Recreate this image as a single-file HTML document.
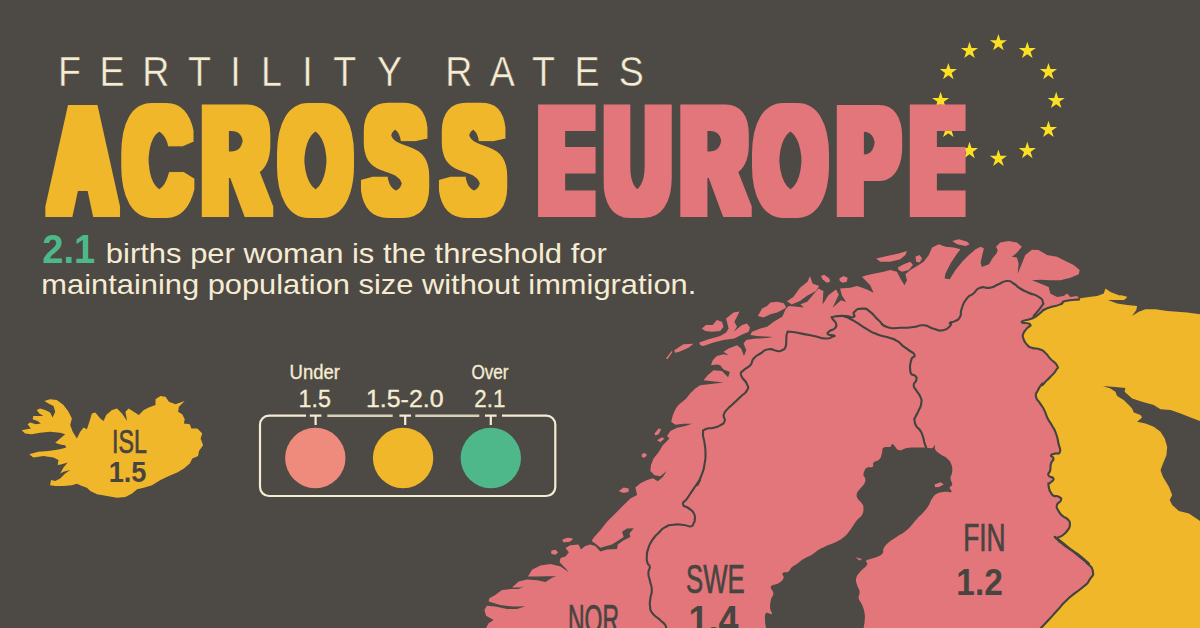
<!DOCTYPE html>
<html lang="en"><head><meta charset="utf-8"><title>Fertility Rates Across Europe</title>
<style>
html,body{margin:0;padding:0;background:#4d4944;}
body{width:1200px;height:628px;overflow:hidden;font-family:'Liberation Sans',sans-serif;}
svg{display:block}
</style></head><body>
<svg width="1200" height="628" viewBox="0 0 1200 628">
<rect width="1200" height="628" fill="#4d4944"/>
<g fill="#fbe024"><path d="M998.4,34 L1000.42,40.22 L1006.96,40.22 L1001.67,44.06 L1003.69,50.28 L998.4,46.44 L993.11,50.28 L995.13,44.06 L989.84,40.22 L996.38,40.22Z"/><path d="M1027.3,41.74 L1029.32,47.96 L1035.86,47.96 L1030.57,51.81 L1032.59,58.02 L1027.3,54.18 L1022.01,58.02 L1024.03,51.81 L1018.74,47.96 L1025.28,47.96Z"/><path d="M1048.46,62.9 L1050.48,69.12 L1057.02,69.12 L1051.73,72.96 L1053.75,79.18 L1048.46,75.34 L1043.17,79.18 L1045.19,72.96 L1039.9,69.12 L1046.44,69.12Z"/><path d="M1056.2,91.8 L1058.22,98.02 L1064.76,98.02 L1059.47,101.86 L1061.49,108.08 L1056.2,104.24 L1050.91,108.08 L1052.93,101.86 L1047.64,98.02 L1054.18,98.02Z"/><path d="M1048.46,120.7 L1050.48,126.92 L1057.02,126.92 L1051.73,130.76 L1053.75,136.98 L1048.46,133.14 L1043.17,136.98 L1045.19,130.76 L1039.9,126.92 L1046.44,126.92Z"/><path d="M1027.3,141.86 L1029.32,148.07 L1035.86,148.08 L1030.57,151.92 L1032.59,158.14 L1027.3,154.29 L1022.01,158.14 L1024.03,151.92 L1018.74,148.08 L1025.28,148.07Z"/><path d="M998.4,149.6 L1000.42,155.82 L1006.96,155.82 L1001.67,159.66 L1003.69,165.88 L998.4,162.04 L993.11,165.88 L995.13,159.66 L989.84,155.82 L996.38,155.82Z"/><path d="M969.5,141.86 L971.52,148.07 L978.06,148.08 L972.77,151.92 L974.79,158.14 L969.5,154.29 L964.21,158.14 L966.23,151.92 L960.94,148.08 L967.48,148.07Z"/><path d="M948.34,120.7 L950.36,126.92 L956.9,126.92 L951.61,130.76 L953.63,136.98 L948.34,133.14 L943.05,136.98 L945.07,130.76 L939.78,126.92 L946.32,126.92Z"/><path d="M940.6,91.8 L942.62,98.02 L949.16,98.02 L943.87,101.86 L945.89,108.08 L940.6,104.24 L935.31,108.08 L937.33,101.86 L932.04,98.02 L938.58,98.02Z"/><path d="M948.34,62.9 L950.36,69.12 L956.9,69.12 L951.61,72.96 L953.63,79.18 L948.34,75.34 L943.05,79.18 L945.07,72.96 L939.78,69.12 L946.32,69.12Z"/><path d="M969.5,41.74 L971.52,47.96 L978.06,47.96 L972.77,51.81 L974.79,58.02 L969.5,54.18 L964.21,58.02 L966.23,51.81 L960.94,47.96 L967.48,47.96Z"/></g>
<g stroke-linejoin="round" stroke-linecap="round">
<path fill="#e2767b" d="M486.1,628 L488.6,623.3 L493.6,620 L486.1,615.8 L484.4,610 L486.9,605.8 L495.3,606.6 L507,609.1 L517,609.1 L525.4,606.3 L513.6,606.6 L500.3,604.9 L488.6,601.6 L489.4,598.3 L495.3,594.9 L501.9,589.9 L510.3,589.1 L518.7,589.1 L524.5,586.2 L520.3,587.4 L512,587.4 L518.7,581.5 L527,579.5 L537.1,580.2 L545.4,581.9 L552.1,577.8 L556.3,576.2 L547.1,576.2 L537.1,576.5 L527.9,576.5 L532,569.8 L540.4,565.6 L550.4,564 L560.5,566.5 L568.8,572.3 L565.5,568.2 L559.6,562.3 L560.5,558.1 L565.5,556.4 L568.8,552.3 L565.5,548.1 L570.2,545.2 L578.5,544.4 L581,549.4 L585.2,546.1 L590.2,544.4 L595.3,546.1 L600.3,551.6 L607,549.4 L617,548.9 L617.8,544.4 L623.7,540.2 L630.4,536.9 L629.5,533.5 L633.7,528.2 L627,528.5 L622,531.8 L623.7,536.9 L618.7,540.2 L612,544.4 L600.3,547.7 L595.3,543.5 L591.6,541 L593.6,537.7 L600.3,530.2 L607,521.8 L615.3,513.4 L623.7,505.1 L630.4,498.4 L637.1,495.1 L635.4,487.5 L640.4,483.3 L647.1,480 L638.6,485 L647,480 L652.8,478.3 L657.8,481.2 L662.8,477 L666.7,471.1 L660.3,476.2 L654.5,475.3 L650.3,471.1 L651.1,464.4 L653.6,458.6 L658.7,451.9 L662.8,445.2 L667,441 L669.5,438.5 L667,436 L670.4,431 L677.1,427.7 L685.4,426 L692.1,423.8 L683.7,423.8 L675.4,424.8 L671.2,421.8 L672.9,415.1 L675.4,409.3 L678.4,405 L686,398.7 L690.1,393.6 L695.2,388.6 L700.2,385.3 L723.6,382.6 L703.5,380.3 L707.7,375.3 L713.5,370.2 L721.9,371.1 L728.1,377.3 L729.9,371.9 L723.6,369.4 L720.2,365.2 L716.9,364.4 L711,365.2 L712.7,360.2 L716.9,356 L723.6,354.3 L728.6,355.2 L723.6,351.8 L728.6,348.5 L737,345.2 L741.1,348.5 L744,356 L746.2,350.2 L743.6,343.5 L746.2,340.1 L753.7,338.8 L767.1,338.1 L772.9,337.1 L757,336 L750.3,335.1 L752,331.8 L760.4,328.4 L767.1,326.8 L773.7,321.7 L782.1,316.7 L783.8,313.4 L785.5,309.2 L788.8,305.9 L797.2,306.7 L803.8,307.5 L800.5,304.2 L807.2,301.7 L818.4,288.5 L823.4,291 L822.6,304.4 L828.4,295.2 L836,289.4 L838.8,294.4 L832.6,307.8 L841,300.2 L846,301.9 L841.8,295.2 L840.1,288.5 L850.2,287.7 L856.9,286 L860.2,286.9 L866.9,289.4 L873.6,292.7 L870.2,285.2 L861.9,276.8 L866.9,275.2 L873.6,273.8 L883.6,271.8 L890.3,270.1 L897,271.8 L900.3,278.5 L904.5,285.2 L907,280.2 L905.4,274.3 L910.4,270.1 L917.1,266 L923.7,261.8 L928.8,255.1 L932.1,247.6 L938.8,244.2 L945.5,246.7 L953.8,247.6 L960.5,249.2 L957.2,253.4 L950.5,263.4 L945.5,273.5 L944.6,278.5 L949.7,279.3 L955.5,270.1 L962.2,261.8 L968.9,255.1 L975.6,249.2 L980.6,246.7 L983.9,248.4 L982.3,255.1 L980.6,262.6 L981.8,267.1 L989,264.3 L992.3,258.4 L996.5,253.4 L997.7,250.1 L996,246.7 L1000.2,242.5 L1008.5,240.9 L1016.9,242.5 L1021.9,246.7 L1016.1,253.4 L1011.9,256.8 L1016.9,257.6 L1018.6,263.4 L1017.7,273.8 L1021.9,263.4 L1025.3,255.1 L1031.9,249.7 L1038.6,250.1 L1047,255.1 L1057,256.8 L1065.4,260.9 L1073.7,265.1 L1079.6,270.1 L1078.8,274.3 L1070.4,277.7 L1060.4,280.2 L1050.3,280.2 L1040.3,279.8 L1031.9,280.2 L1040.3,283.5 L1048.7,286.9 L1050.3,293.5 L1057,296.9 L1063.7,296.1 L1067.1,293.5 L1070.4,296.9 L1077.1,296.1 L1079.1,298.6 L1100,320 L1100,640 L480,640 L486,628Z"/>
<g fill="#e2767b"><path d="M665.9,358.5 L671.7,351 L672.6,351.8 L667.6,358.9Z"/><path d="M674.2,350.2 L683.4,344.3 L693.5,343.8 L688.5,347.7 L679.3,351.8 L675.1,352.7Z"/><path d="M699.3,342.6 L708.5,339.3 L720.2,336 L726.1,332.6 L728.6,328.4 L726.1,318.4 L733.6,312.5 L739.5,311.4 L737,316.7 L734.4,321.7 L737,326.8 L733.6,331.8 L742,325.1 L747,323.4 L750,327.6 L748.7,331.8 L741.1,335.1 L734.4,338.5 L723.6,340.1 L713.5,342.6 L703.5,346 L700.2,345.2Z"/><path d="M701.8,328.4 L706,325.1 L712.7,325.1 L716.9,320.1 L721.9,321.7 L723.6,326.8 L720.2,330.9 L711.9,331.8 L705.2,330.9Z"/><path d="M757.9,315.9 L762,308.4 L767.1,305.9 L770.4,302.5 L777.1,301.7 L783.8,303.3 L786.3,307.5 L782.1,310 L777.1,312.5 L770.4,314.2 L763.7,317.6Z"/><path d="M876.1,258.4 L887,255.9 L898.7,253.4 L907,250.9 L905.4,255.1 L900.3,259.3 L890.3,261.8 L880.3,261.8Z"/><path d="M915.4,256.8 L919.6,255.1 L922.1,258.4 L919.6,262.6 L916.2,261.8Z"/><path d="M897.8,267.6 L903.7,264.3 L910.4,261.8 L912.9,265.1 L908.7,270.1 L902,271.8 L898.7,270.1Z"/><path d="M820.9,276 L824.2,274.8 L829.3,278.5 L830.1,281.8 L826.8,282.7 L822.6,279.3Z"/><path d="M839.3,278.5 L843.5,276 L847.7,277.7 L846.8,281.8 L842.6,282.7 L839.8,281Z"/><path d="M952.2,240.9 L958.9,239.2 L967.2,241.7 L969.7,244.2 L965.6,245.9 L957.2,244.2Z"/><path d="M787,301.2 L793.3,296.9 L800,287.7 L807.5,281.8 L810,276 L812.5,283.5 L819.2,286 L815.9,291 L806.7,296.1 L800,301.1 L791.6,304.4Z"/><path d="M654.5,433.5 L658.7,428.5 L661.2,429.3 L658.7,434.3 L655.3,435.5Z"/><path d="M657,440.2 L662,437.2 L664.5,438.5 L660.3,442.2Z"/><path d="M641.6,454.4 L644.4,452.7 L647,454.9 L644.4,457.8 L641.9,456.9Z"/><path d="M618.7,490.9 L623.7,487.5 L628.7,488.4 L628.7,491.7 L623.7,493Z"/><path d="M562.6,540.2 L568.5,537.7 L572.7,539.4 L569.3,541.9 L563.5,542.2Z"/><path d="M550.9,551.9 L554.3,549.9 L557.6,551.9 L556,554.4 L551.8,553.9Z"/><path d="M562.1,539.7 L567.2,537.7 L573,538.4 L570.5,541.1 L563.8,542.2Z"/><path d="M551.3,550.6 L555.5,549.8 L558,552.3 L555.5,554.4 L551.8,553.9Z"/></g>
<path fill="#f1b72a" d="M1079.1,298.6 L1088.8,296.9 L1097.2,296.1 L1103.8,293.5 L1105.5,288.5 L1110.5,291.9 L1118.9,295.2 L1127.3,296.9 L1123.9,300.2 L1120.4,295.1 L1127.1,296.7 L1123.7,300.1 L1115.4,300.1 L1107.9,300.1 L1117.1,303.4 L1127.1,305.1 L1137.1,305.9 L1136.3,310.1 L1132.1,316 L1138.8,311.8 L1145.5,309.3 L1155.5,309.3 L1167.2,310.9 L1177.3,311.8 L1187.3,312.6 L1200,314.3 L1210,315 L1210,640 L1035,640 L1041,628 L1048.5,620 L1056.9,610.8 L1065.2,601.6 L1073.6,594.1 L1083.6,586.5 L1089.5,579.9 L1092.8,570.7 L1086.1,562.3 L1080.3,556.4 L1071.9,550.6 L1063.5,544.7 L1057.7,538.9 L1086.1,561.9 L1080.3,556.1 L1071.9,550.2 L1063.5,544.4 L1057.7,538.9 L1062.7,535.2 L1067.7,530.2 L1069.9,524.3 L1067.7,519.3 L1062.7,516 L1058.5,510.9 L1056.9,505.1 L1061,500.1 L1058.5,496.7 L1051.8,494.2 L1048.5,485 L1050.2,482.8 L1053.5,478.7 L1048.5,475.3 L1050.2,470.3 L1051,463.6 L1053.5,458.6 L1051,455.3 L1055.2,453.6 L1059.9,451.9 L1058.5,443.5 L1056,433.5 L1051.8,425.2 L1047.7,418.5 L1044.3,410.1 L1040.1,403.4 L1036,396.7 L1037.6,390.9 L1041.8,384.2 L1042.6,385 L1045.2,382 L1050.2,377 L1056,370.3 L1056.9,365.3 L1050.2,358.6 L1045.2,352.7 L1040.1,349.4 L1031.8,347.7 L1026.8,344.4 L1023.4,338.5 L1023.4,333.5 L1026.8,328.5 L1030.1,324.3 L1021.7,321.8 L1031.8,318.5 L1037.6,315.1 L1043.5,310.1 L1043.6,309.9 L1050.3,307.3 L1060.4,304.4 L1065.4,301.1 L1079.1,299.4Z"/>
<path fill="#4d4944" d="M1102.8,385.9 L1115.4,387 L1125.4,388 L1124.6,391.7 L1132.1,398.4 L1142.1,401.7 L1153.8,405.1 L1160.5,409.3 L1170.6,410.1 L1180.6,413.4 L1190.6,417.6 L1200,421 L1210,423 L1210,523 L1200,521 L1189,513.4 L1178.9,510.9 L1172.2,505.1 L1169.7,500.1 L1172.2,495.1 L1168.9,486.7 L1163,477 L1160.5,470.3 L1163,463.6 L1166.4,455.3 L1167.2,446.9 L1164.7,438.5 L1160.5,431.8 L1153.8,426.8 L1145.5,423.5 L1137.1,421.8 L1142.1,417.6 L1140.5,415.1 L1133.8,412.6 L1132.1,408.4 L1128.8,405.1 L1123.7,400.1 L1117.1,395.9 L1115.4,391.7 L1110.4,388.4 L1102.8,385.9Z"/>
<path fill="#4d4944" d="M883.6,447.6 C885.6,446.1 888.2,447.6 890.3,446.8 C892.4,446.0 890.8,443.4 892.8,444.2 C894.8,445.0 895.8,449.1 898.7,450.1 C901.6,451.1 901.9,449.0 905.4,448.4 C908.9,447.8 909.4,447.8 913.7,447.6 C918.0,447.4 919.4,447.5 923.7,447.6 C928.0,447.7 929.6,448.7 932.1,448.1 C934.6,447.5 933.8,444.6 934.6,445.1 C935.4,445.6 934.1,448.0 935.5,450.1 C936.9,452.2 937.8,452.3 940.5,454.3 C943.2,456.3 944.7,456.2 947.2,458.5 C949.7,460.8 950.1,461.2 951.3,464.3 C952.5,467.4 952.4,468.5 952.2,471.8 C952.0,475.1 950.5,475.6 950.5,478.5 C950.5,481.4 952.4,482.3 952.2,484.4 C952.0,486.5 949.9,485.9 949.7,487.7 C949.5,489.4 952.7,490.9 951.3,491.9 C949.9,492.9 947.1,491.5 943.8,491.9 C940.5,492.3 939.8,492.0 937.1,493.6 C934.4,495.2 934.0,495.9 932.1,498.6 C930.2,501.3 930.8,502.2 928.8,505.3 C926.8,508.4 926.4,508.9 923.7,512 C921.0,515.1 921.0,514.6 917.1,518.7 C913.2,522.8 911.8,525.6 907.2,529.7 C902.6,533.8 901.5,533.5 897.2,536.4 C892.9,539.3 891.9,539.5 888.8,542.2 C885.7,544.9 885.4,545.4 883.8,548.1 C882.2,550.8 884.4,551.6 882.1,553.9 C879.8,556.2 877.5,556.5 873.8,558.1 C870.1,559.7 867.9,559.0 866.3,560.6 C864.7,562.2 868.5,562.3 867.1,564.8 C865.7,567.3 862.9,568.4 860.4,571.5 C857.9,574.6 857.0,575.1 856.2,578.2 C855.4,581.3 856.3,581.8 857.1,584.9 C857.9,588.0 859.2,588.5 859.6,591.6 C860.0,594.7 858.1,595.2 858.7,598.3 C859.3,601.4 860.7,601.4 862.1,604.9 C863.5,608.4 864.0,609.4 864.6,613.3 C865.2,617.2 864.8,618.3 864.6,621.7 C864.4,625.1 864.1,623.7 863.7,628 C863.3,632.3 885.8,637.2 863,640 C840.2,642.8 788.7,642.8 766,640 C743.3,637.2 766.1,632.3 765.9,628 C765.7,623.7 765.1,625.1 765.1,621.7 C765.1,618.3 764.3,615.1 765.9,613.3 C767.5,611.5 770.8,615.3 771.8,614.1 C772.8,612.9 770.3,611.6 770.1,608.3 C769.9,605.0 770.1,603.4 770.9,599.9 C771.7,596.4 773.4,596.3 773.4,593.2 C773.4,590.1 769.7,588.8 770.9,586.5 C772.1,584.2 775.6,585.1 778.5,583.2 C781.4,581.3 782.5,580.5 783.5,578.2 C784.5,575.9 781.4,574.8 782.6,573.2 C783.8,571.6 786.4,572.9 788.5,571.5 C790.6,570.1 789.8,569.0 791.8,567.3 C793.8,565.5 794.2,565.9 796.9,564 C799.6,562.1 800.0,561.1 803.5,559 C807.0,556.9 808.4,556.9 811.9,554.8 C815.4,552.7 815.5,551.8 818.6,549.8 C821.7,547.8 821.8,548.0 825.3,546.4 C828.8,544.8 829.3,545.2 833.6,543.1 C837.9,541.0 839.8,540.3 843.7,537.2 C847.6,534.1 847.3,533.6 850.4,529.7 C853.5,525.8 854.2,523.7 856.9,520.3 C859.6,516.9 860.4,518.0 861.9,515.3 C863.4,512.6 863.5,511.3 863.5,508.6 C863.5,505.9 863.3,505.9 861.9,503.6 C860.5,501.3 858.9,500.9 857.7,498.6 C856.5,496.3 856.3,495.9 856.9,493.6 C857.5,491.3 858.5,491.0 860.2,488.6 C862.0,486.2 863.2,485.9 864.4,483.5 C865.6,481.1 865.4,480.4 865.2,478.5 C865.0,476.6 863.7,476.9 863.5,475.2 C863.3,473.4 863.6,472.8 864.4,471 C865.2,469.2 865.0,468.7 866.9,467.7 C868.8,466.7 871.1,468.0 872.7,466.8 C874.3,465.6 872.0,464.4 873.6,462.6 C875.2,460.9 877.5,461.4 879.4,459.3 C881.3,457.2 880.9,456.1 881.9,453.4 C882.9,450.7 881.6,449.1 883.6,447.6Z"/>
<g fill="#e2767b"><path d="M934.6,484.4 L940.5,482.2 L943.8,484.4 L938.8,486.9 L935.1,487.2Z"/><path d="M855.4,557.3 L862.1,559 L859.6,560.6Z"/></g>
<g fill="none" stroke="#43433f" stroke-width="2.1">
<path d="M666,628 C665.7,627.0 667.2,627.7 665.2,625 C663.2,622.3 664.3,623.9 660.1,620 C655.9,616.1 655.9,617.8 652.6,613.3 C649.3,608.8 650.8,611.6 650.1,606.6 C649.4,601.6 649.8,603.9 650.4,598.3 C651.0,592.7 651.9,595.5 651.8,589.9 C651.7,584.3 651.2,587.1 650.1,581.5 C649.0,575.9 648.5,578.1 648.4,573.2 C648.3,568.3 650.1,570.2 649.8,566.8 C649.5,563.4 648.6,566.6 647.6,563.1 C646.6,559.6 646.5,561.4 646.8,556.4 C647.1,551.4 646.5,553.7 648.4,548.1 C650.3,542.5 649.2,544.7 652.6,539.7 C656.0,534.7 654.3,537.2 658.5,533 C662.7,528.8 660.2,530.0 665.2,527.2 C670.2,524.4 667.4,525.4 673.5,524.7 C679.6,524.0 677.6,524.5 683.5,525 C689.4,525.5 687.7,527.0 691.1,526.3 C694.5,525.6 692.4,525.1 693.6,523 C694.8,520.9 694.6,523.3 694.7,520.1 C694.8,516.9 695.8,517.3 693.9,513.4 C692.0,509.5 692.5,511.5 688.9,508.4 C685.3,505.3 683.6,507.5 683,504.2 C682.4,500.9 683.6,503.7 687.2,498.4 C690.8,493.1 689.7,494.5 693.9,488.4 C698.1,482.3 698.7,481.1 699.8,480 C700.9,478.9 696.3,487.1 697.1,485 C697.9,482.9 699.6,480.7 702.1,473.6 C704.6,466.5 703.5,470.3 704.6,463.6 C705.7,456.9 705.5,460.3 705.5,453.6 C705.5,446.9 705.4,450.2 704.6,443.5 C703.8,436.8 702.7,438.2 703,433.5 C703.3,428.8 701.9,431.2 705.5,429.3 C709.1,427.4 708.8,429.1 713.8,427.7 C718.8,426.3 716.9,427.4 720.5,425.2 C724.1,423.0 723.6,424.6 724.7,421 C725.8,417.4 722.5,418.8 723.9,414.3 C725.3,409.8 726.2,410.7 728.9,407.6 C731.6,404.5 728.1,408.5 731.9,405 C735.7,401.5 735.3,401.9 740.3,397 C745.3,392.1 744.9,394.8 747,390.3 C749.1,385.8 748.7,388.6 746.7,383.6 C744.7,378.6 742.1,379.8 741.1,375.3 C740.1,370.8 740.5,373.6 743.6,370.2 C746.7,366.8 746.9,369.1 750.3,365.2 C753.7,361.3 750.3,362.4 753.7,358.5 C757.1,354.6 755.4,356.6 760.4,353.5 C765.4,350.4 763.1,350.1 768.7,349.3 C774.3,348.5 772.6,350.7 777.1,351 C781.6,351.3 779.3,351.6 782.1,350.2 C784.9,348.8 784.1,350.2 785.5,346.8 C786.9,343.4 785.8,344.6 786.3,340.1 C786.8,335.6 785.7,336.2 787.1,333.4 C788.5,330.6 786.0,331.8 790.5,331.8 C795.0,331.8 792.7,332.0 800.5,333.4 C808.3,334.8 805.5,334.3 813.9,336 C822.3,337.7 819.5,338.2 825.6,338.5 C831.7,338.8 829.5,337.8 832.3,336.8 C835.1,335.8 835.3,336.3 833.9,335.5 C832.5,334.7 829.5,335.8 828.1,334.3 C826.7,332.8 827.6,332.9 829.8,330.9 C832.0,328.9 832.7,330.9 834.8,328.4 C836.9,325.9 836.8,326.7 836,323.4 C835.2,320.1 833.0,320.6 832.3,318.4 C831.6,316.2 830.6,317.5 833.9,316.7 C837.2,315.9 836.9,315.9 842.3,315.9 C847.7,315.9 847.4,316.4 850,316.7"/>
<path d="M843.5,316.1 C846.8,316.4 849.9,318.4 853.5,317 C857.1,315.6 851.2,314.7 854.3,311.9 C857.4,309.1 857.4,308.6 862.7,308.6 C868.0,308.6 864.9,308.0 870.2,311.9 C875.5,315.8 873.0,315.3 878.6,320.3 C884.2,325.3 879.8,324.5 887,327 C894.2,329.5 891.4,327.8 900.3,327.8 C909.2,327.8 905.9,327.8 913.7,327 C921.5,326.2 917.0,324.7 923.7,325.3 C930.4,325.9 927.4,327.0 933.8,328.7 C940.2,330.4 937.4,331.4 943,330.3 C948.6,329.2 948.2,327.8 950.5,325.3 C952.8,322.8 948.5,324.2 950,322.8 C951.5,321.4 951.7,323.0 955,321.1 C958.3,319.2 957.8,321.2 960,317 C962.2,312.8 959.5,314.7 961.7,308.6 C963.9,302.5 962.8,303.6 966.7,298.6 C970.6,293.6 968.9,297.1 973.4,293.5 C977.9,289.9 974.5,289.6 980.1,287.7 C985.7,285.8 984.0,288.8 990.1,287.7 C996.2,286.6 992.9,286.5 998.5,284.3 C1004.1,282.1 1001.9,281.3 1006.9,281 C1011.9,280.7 1009.1,281.0 1013.5,283.5 C1017.9,286.0 1015.2,285.4 1020.2,288.5 C1025.2,291.6 1022.5,289.9 1028.6,292.7 C1034.7,295.5 1033.9,293.8 1038.6,296.9 C1043.3,300.0 1042.0,298.6 1042.8,301.9 C1043.6,305.2 1044.2,302.2 1041.1,306.9 C1038.0,311.6 1036.1,313.0 1033.6,316.1"/>
<path d="M845.2,316.3 C848.5,318.1 848.0,317.4 855.2,321.7 C862.4,326.0 859.7,325.0 866.9,329.2 C874.1,333.4 869.7,331.4 876.9,334.2 C884.1,337.0 881.9,335.4 888.6,337.6 C895.3,339.8 892.3,338.1 897,340.9 C901.7,343.7 898.9,342.8 902.8,345.9 C906.7,349.0 904.8,347.0 908.7,350.1 C912.6,353.2 913.7,351.7 914.5,355.1 C915.3,358.5 912.6,354.6 911.2,360.2 C909.8,365.8 909.0,366.6 910.4,371.9 C911.8,377.2 913.5,373.2 915.4,376 C917.3,378.8 916.8,377.1 916.2,380.2 C915.6,383.3 913.7,381.8 913.7,385.2 C913.7,388.6 914.0,386.4 916.2,390.3 C918.4,394.2 918.7,392.5 920.4,396.9 C922.1,401.3 921.8,399.1 921.2,403.6 C920.6,408.1 920.6,405.8 918.7,410.3 C916.8,414.8 916.8,413.8 915.4,417 C914.0,420.2 914.2,417.0 914.5,420 C914.8,423.0 914.2,422.3 916.2,425.9 C918.2,429.5 918.2,427.3 920.4,430.9 C922.6,434.5 921.5,432.5 922.9,436.7 C924.3,440.9 923.5,439.8 924.6,443.4 C925.7,447.0 925.7,446.2 926.3,447.6"/>
<path d="M1079.1,299.4 C1074.5,300.0 1071.6,299.4 1065.4,301.1 C1059.2,302.8 1065.4,302.3 1060.4,304.4 C1055.4,306.5 1055.9,305.5 1050.3,307.3 C1044.7,309.1 1045.9,309.0 1043.6,309.9 C1041.3,310.8 1045.5,308.4 1043.5,310.1 C1041.5,311.8 1041.5,312.3 1037.6,315.1 C1033.7,317.9 1037.1,316.3 1031.8,318.5 C1026.5,320.7 1022.3,319.9 1021.7,321.8 C1021.1,323.7 1028.4,322.1 1030.1,324.3 C1031.8,326.5 1029.0,325.4 1026.8,328.5 C1024.6,331.6 1024.5,330.2 1023.4,333.5 C1022.3,336.8 1022.3,334.9 1023.4,338.5 C1024.5,342.1 1024.0,341.3 1026.8,344.4 C1029.6,347.5 1027.4,346.0 1031.8,347.7 C1036.2,349.4 1035.6,347.7 1040.1,349.4 C1044.6,351.1 1041.8,349.6 1045.2,352.7 C1048.6,355.8 1046.3,354.4 1050.2,358.6 C1054.1,362.8 1055.0,361.4 1056.9,365.3 C1058.8,369.2 1058.2,366.4 1056,370.3 C1053.8,374.2 1053.8,373.1 1050.2,377 C1046.6,380.9 1047.7,379.3 1045.2,382 C1042.7,384.7 1043.7,384.3 1042.6,385 C1041.5,385.7 1043.5,382.2 1041.8,384.2 C1040.1,386.2 1039.5,386.7 1037.6,390.9 C1035.7,395.1 1035.2,392.5 1036,396.7 C1036.8,400.9 1037.3,398.9 1040.1,403.4 C1042.9,407.9 1041.8,405.1 1044.3,410.1 C1046.8,415.1 1045.2,413.5 1047.7,418.5 C1050.2,423.5 1049.0,420.2 1051.8,425.2 C1054.6,430.2 1053.8,427.4 1056,433.5 C1058.2,439.6 1057.2,437.4 1058.5,443.5 C1059.8,449.6 1061.0,448.5 1059.9,451.9 C1058.8,455.3 1058.2,452.5 1055.2,453.6 C1052.2,454.7 1051.6,453.6 1051,455.3 C1050.4,457.0 1053.5,455.8 1053.5,458.6 C1053.5,461.4 1052.1,459.7 1051,463.6 C1049.9,467.5 1051.0,466.4 1050.2,470.3 C1049.4,474.2 1047.4,472.5 1048.5,475.3 C1049.6,478.1 1052.9,476.2 1053.5,478.7 C1054.1,481.2 1051.9,480.7 1050.2,482.8 C1048.5,484.9 1048.0,481.2 1048.5,485 C1049.0,488.8 1048.5,490.3 1051.8,494.2 C1055.1,498.1 1055.4,494.7 1058.5,496.7 C1061.6,498.7 1061.5,497.3 1061,500.1 C1060.5,502.9 1057.7,501.5 1056.9,505.1 C1056.1,508.7 1056.6,507.3 1058.5,510.9 C1060.4,514.5 1059.6,513.2 1062.7,516 C1065.8,518.8 1065.3,516.5 1067.7,519.3 C1070.1,522.1 1069.9,520.7 1069.9,524.3 C1069.9,527.9 1070.1,526.6 1067.7,530.2 C1065.3,533.8 1066.0,532.3 1062.7,535.2 C1059.4,538.1 1057.4,535.8 1057.7,538.9 C1058.0,542.0 1058.8,540.6 1063.5,544.4 C1068.2,548.2 1066.3,546.3 1071.9,550.2 C1077.5,554.1 1075.6,552.2 1080.3,556.1 C1085.0,560.0 1093.6,567.6 1086.1,561.9 C1078.6,556.2 1065.2,544.6 1057.7,538.9 C1050.2,533.2 1058.8,540.8 1063.5,544.7 C1068.2,548.6 1066.3,546.7 1071.9,550.6 C1077.5,554.5 1075.6,552.5 1080.3,556.4 C1085.0,560.3 1081.9,557.5 1086.1,562.3 C1090.3,567.1 1091.7,564.8 1092.8,570.7 C1093.9,576.6 1092.6,574.6 1089.5,579.9 C1086.4,585.2 1088.9,581.8 1083.6,586.5 C1078.3,591.2 1079.7,589.1 1073.6,594.1 C1067.5,599.1 1070.8,596.0 1065.2,601.6 C1059.6,607.2 1062.5,604.7 1056.9,610.8 C1051.3,616.9 1053.8,614.3 1048.5,620 C1043.2,625.7 1043.5,625.3 1041,628"/>
</g>
<path fill="#f1b72a" d="M76.9,438.5 L80.2,431.8 L83.6,427.6 L86.9,429.3 L89.4,421.8 L91.9,413.4 L95.3,412.6 L100.3,418.4 L103.6,421 L106.2,415.1 L112,410.1 L117,408.4 L122,413.4 L127.1,421 L125.4,411.8 L128.7,408.4 L133.7,411.8 L138.8,415.1 L143.8,410.1 L148.8,407.6 L155.5,405.1 L155.5,399.2 L160.5,395.9 L165.5,396.7 L168.9,401.7 L175.6,404.2 L184.7,400.9 L178.9,406.7 L178.1,411.8 L182.2,414.3 L184.7,419.3 L183.9,423.5 L189.8,424.3 L191.4,428.5 L197.3,428.5 L202.3,433.5 L200.6,438.5 L203.1,445.2 L199,450.9 L198.1,455.9 L192.3,458.4 L189.8,463.4 L183.9,468.4 L177.2,472.6 L168.9,476 L160.5,480.1 L152.1,485.2 L143.8,487.7 L137.1,489.3 L132.1,493.5 L125.4,496.9 L117,497.7 L107,496 L97,494.3 L90.3,491 L86.9,487.7 L81.9,486 L76.9,483.8 L71.9,485.2 L63.5,486 L55.2,486 L50.1,485.2 L51,480.1 L55.2,481 L60.2,478.5 L65.2,473.4 L70.2,470.1 L63.5,471.8 L60.2,473.4 L63.5,467.6 L67.7,462.6 L61.8,464.2 L57.7,465.1 L58.5,460.1 L53.5,457.6 L43.4,455.9 L33.4,457.6 L29.2,454.2 L38.4,451.7 L48.5,451.1 L58.5,449.4 L66,447.7 L65.2,445.2 L60.2,444.4 L55.2,442.7 L60.2,438.5 L65.2,434.3 L60.2,432.7 L50.1,431.8 L40.1,432.7 L31.7,434.3 L25.1,433.5 L21.7,430.2 L26.7,429.3 L30.9,428.5 L27.6,424.3 L30.1,422.6 L35.9,424.3 L40.9,423.5 L37.6,421 L32.6,419.3 L33.4,415.9 L37.6,415.9 L43.4,415.9 L39.3,413.4 L36.8,410.1 L40.1,408.4 L45.1,410.1 L50.1,412.6 L52.6,417.6 L55.2,411.8 L53.5,405.9 L48.5,403.4 L44.3,400.9 L50.1,399.2 L56.8,400.1 L63.5,405.1 L68.5,411.8 L71.9,418.4 L70.2,425.1 L72.7,431.8Z"/>
</g>
<text transform="translate(0,85.9) scale(0.9,1)" font-family="'Liberation Sans', sans-serif" font-size="41.8" fill="#f6ecd3" stroke="#4d4944" stroke-width="0.45" x="64.57 110.58 157.96 208.81 255.86 290.02 335.86 370.25 418.84 471.11 494.85 544.17 591.14 638.24 687.50" y="0">FERTILITY RATES</text>
<defs><filter id="fat" x="-5%" y="-10%" width="110%" height="120%" color-interpolation-filters="sRGB"><feMorphology operator="dilate" radius="7.3 5"/></filter></defs>
<defs><clipPath id="clipE"><rect x="500" y="90" width="95.6" height="140"/><rect x="603.6" y="90" width="362" height="140"/></clipPath></defs>
<g><g filter="url(#fat)"><text transform="translate(0,212.2) scale(0.907,1.475)" font-family="'Liberation Sans', sans-serif" font-weight="bold" font-size="100" fill="#f1b72a" x="55.18 137.40 223.45 309.00 402.65 488.65" y="0">ACROSS</text></g></g>
<g clip-path="url(#clipE)"><g filter="url(#fat)"><text transform="translate(0,212.2) scale(0.907,1.475)" font-family="'Liberation Sans', sans-serif" font-weight="bold" font-size="100" fill="#e2767b" x="594.25 666.82 751.02 832.81 923.54 1004.17" y="0">EUROPE</text></g></g>
<text x="42.2" y="262.9" font-family="'Liberation Sans', sans-serif" font-size="40.6" font-weight="bold" fill="#4eb88b" textLength="53" lengthAdjust="spacingAndGlyphs">2.1</text>
<text x="105.8" y="262.8" font-family="'Liberation Sans', sans-serif" font-size="28.5" fill="#f6ecd3" textLength="501" lengthAdjust="spacingAndGlyphs">births per woman is the threshold for</text>
<text x="41.3" y="294" font-family="'Liberation Sans', sans-serif" font-size="28.5" fill="#f6ecd3" textLength="655" lengthAdjust="spacingAndGlyphs">maintaining population size without immigration.</text>
<g fill="none" stroke="#f6ecd3" stroke-width="2.2" stroke-linecap="butt">
<path d="M306,415.7 H269 a9,9 0 0 0 -9,9 V487 a9,9 0 0 0 9,9 H546.3 a9,9 0 0 0 9,-9 V424.7 a9,9 0 0 0 -9,-9 H502"/>
<path d="M327.3,415.7 H392.7 M415.3,415.7 H479.3" stroke-width="2.6" stroke="#d8cfba"/>
<path d="M309.8,415.7 H321.40000000000003 M315.6,415.7 V425"/>
<path d="M399.4,415.7 H411.0 M405.2,415.7 V425"/>
<path d="M485.0,415.7 H496.6 M490.8,415.7 V425"/>
</g>
<circle cx="315.3" cy="458" r="30.2" fill="#ee8b7d"/>
<circle cx="403.1" cy="458" r="30.2" fill="#f1b72a"/>
<circle cx="490.8" cy="458" r="30.2" fill="#4eb88b"/>
<g font-family="'Liberation Sans', sans-serif" fill="#f6ecd3" stroke="#f6ecd3" stroke-width="0.35">
<text x="289.6" y="379.3" font-size="20.4" textLength="50.3" lengthAdjust="spacingAndGlyphs">Under</text>
<text x="298.6" y="407.3" font-size="24.2" textLength="32.3" lengthAdjust="spacingAndGlyphs">1.5</text>
<text x="366" y="407.3" font-size="24.2" textLength="77.5" lengthAdjust="spacingAndGlyphs">1.5-2.0</text>
<text x="471.4" y="379.3" font-size="20.4" textLength="37.2" lengthAdjust="spacingAndGlyphs">Over</text>
<text x="474.3" y="407.3" font-size="24.2" textLength="31" lengthAdjust="spacingAndGlyphs">2.1</text>
</g>
<g font-family="'Liberation Sans', sans-serif" fill="#484440">
<text x="112" y="452.7" font-size="32.7" textLength="34.8" lengthAdjust="spacingAndGlyphs" stroke="#484440" stroke-width="0.7">ISL</text><text x="108.7" y="481.9" font-size="29.3" font-weight="bold" textLength="37.8" lengthAdjust="spacingAndGlyphs">1.5</text>
<text x="686" y="593.3" font-size="40.5" textLength="58.7" lengthAdjust="spacingAndGlyphs" stroke="#484440" stroke-width="0.7">SWE</text><text x="688.5" y="633.2" font-size="39.1" font-weight="bold" textLength="50" lengthAdjust="spacingAndGlyphs">1.4</text>
<text x="963.2" y="550.7" font-size="39.1" textLength="42.4" lengthAdjust="spacingAndGlyphs" stroke="#484440" stroke-width="0.7">FIN</text><text x="956.3" y="594.5" font-size="36.3" font-weight="bold" textLength="46.5" lengthAdjust="spacingAndGlyphs">1.2</text>
<text x="568" y="633.4" font-size="40.5" textLength="51" lengthAdjust="spacingAndGlyphs" stroke="#484440" stroke-width="0.7">NOR</text>
</g>
</svg>
</body></html>
